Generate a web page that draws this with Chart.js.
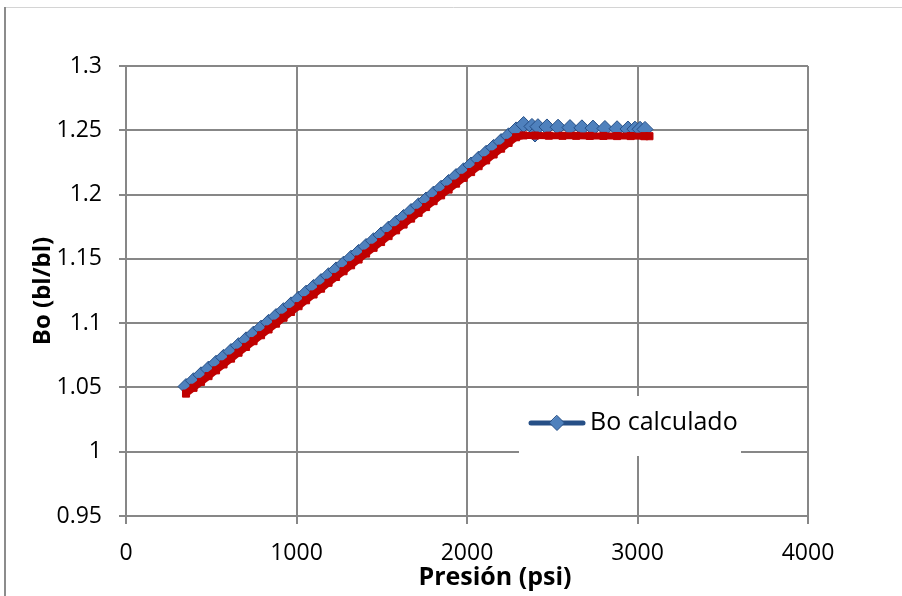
<!DOCTYPE html>
<html>
<head>
<meta charset="utf-8">
<script src="https://cdn.jsdelivr.net/npm/chart.js@4.4.1/dist/chart.umd.min.js"></script>
<style>
  html, body { margin: 0; padding: 0; background: #fff; }
  #wrap { width: 902px; height: 596px; }
</style>
</head>
<body>
<div id="wrap"><canvas id="boChart" width="902" height="596"></canvas></div>
<script>
// Bo calculado (blue diamonds)
const presionCalc = [352, 396, 440, 484, 528, 572, 616, 660, 704, 748, 792, 836, 880, 924, 968,
  1012, 1056, 1100, 1144, 1188, 1232, 1276, 1320, 1364, 1408, 1452, 1496, 1540, 1584, 1628,
  1672, 1716, 1760, 1804, 1848, 1892, 1936, 1980, 2024, 2068, 2112, 2156, 2200, 2244, 2288,
  2332, 2381, 2399, 2416, 2469, 2534, 2604, 2674, 2739, 2809, 2880, 2944, 2985, 3015, 3044];
const boCalc = [1.0507, 1.0552, 1.0598, 1.0643, 1.0688, 1.0734, 1.0779, 1.0825, 1.0870, 1.0915,
  1.0961, 1.1006, 1.1051, 1.1097, 1.1142, 1.1187, 1.1233, 1.1278, 1.1323, 1.1369, 1.1414,
  1.1459, 1.1505, 1.1550, 1.1596, 1.1641, 1.1686, 1.1732, 1.1777, 1.1822, 1.1868, 1.1913,
  1.1958, 1.2004, 1.2049, 1.2094, 1.2140, 1.2185, 1.2230, 1.2276, 1.2321, 1.2367, 1.2412,
  1.2457, 1.2503, 1.2545, 1.2530, 1.2471, 1.2528, 1.2526, 1.2524, 1.2521, 1.2519, 1.2517,
  1.2514, 1.2512, 1.2510, 1.2509, 1.2508, 1.2507];

// second series (red squares, not in legend)
const presionExp = [352, 396, 440, 484, 528, 572, 616, 660, 704, 748, 792, 836, 880, 924, 968,
  1012, 1056, 1100, 1144, 1188, 1232, 1276, 1320, 1364, 1408, 1452, 1496, 1540, 1584, 1628,
  1672, 1716, 1760, 1804, 1848, 1892, 1936, 1980, 2024, 2068, 2112, 2156, 2200, 2244, 2288,
  2332, 2400, 2480, 2560, 2640, 2720, 2800, 2880, 2960, 3040, 3070];
const boExp = [1.0452, 1.0497, 1.0543, 1.0588, 1.0633, 1.0679, 1.0724, 1.0770, 1.0815, 1.0860,
  1.0906, 1.0951, 1.0996, 1.1042, 1.1087, 1.1132, 1.1178, 1.1223, 1.1268, 1.1314, 1.1359,
  1.1404, 1.1450, 1.1495, 1.1541, 1.1586, 1.1631, 1.1677, 1.1722, 1.1767, 1.1813, 1.1858,
  1.1903, 1.1949, 1.1994, 1.2039, 1.2085, 1.2130, 1.2175, 1.2221, 1.2266, 1.2312, 1.2357,
  1.2402, 1.2446, 1.2460, 1.2459, 1.2458, 1.2457, 1.2457, 1.2456, 1.2456, 1.2455, 1.2455,
  1.2454, 1.2454];

const xTicks = [0, 1000, 2000, 3000, 4000];
const yTicks = [0.95, 1, 1.05, 1.1, 1.15, 1.2, 1.25, 1.3];

const blueLine = "#264f86";
const blueFill = "#4f81bd";
const red = "#c00000";
const gridColor = "#878787";
const fontFam = "'Open Sans', 'Noto Sans', sans-serif";

function toPoints(xs, ys) {
  return xs.map((x, i) => ({ x: x, y: ys[i] }));
}

// frame around the chart, x title and legend box inside the plot area
const frameAndLegend = {
  id: "frameAndLegend",
  beforeDraw(chart) {
    const ctx = chart.ctx;
    ctx.save();
    ctx.fillStyle = "#fff";
    ctx.fillRect(0, 0, chart.width, chart.height);
    ctx.strokeStyle = "#d4d4d4";
    ctx.lineWidth = 1;
    ctx.beginPath();
    ctx.moveTo(5, 7.5);
    ctx.lineTo(chart.width, 7.5);
    ctx.stroke();
    ctx.strokeStyle = "#8c8c8c";
    ctx.lineWidth = 2;
    ctx.beginPath();
    ctx.moveTo(5, 7);
    ctx.lineTo(5, chart.height);
    ctx.stroke();
    ctx.restore();
  },
  afterDraw(chart) {
    const ctx = chart.ctx;
    const ca = chart.chartArea;
    ctx.save();
    // x axis title (centred on the whole chart, as in the original)
    ctx.fillStyle = "#000";
    ctx.font = "bold 25px " + fontFam;
    ctx.textAlign = "center";
    ctx.textBaseline = "middle";
    ctx.fillText("Presión (psi)", 495, ca.bottom + 62);

    const bx = ca.left + 393, by = ca.top + 330;
    ctx.fillStyle = "#fff";
    ctx.fillRect(bx, by, 222, 60);
    const ly = by + 27;
    ctx.strokeStyle = blueLine;
    ctx.lineWidth = 5;
    ctx.lineCap = "round";
    ctx.beginPath();
    ctx.moveTo(bx + 12, ly);
    ctx.lineTo(bx + 64, ly);
    ctx.stroke();
    const cx = bx + 38, r = 7.5;
    ctx.fillStyle = blueFill;
    ctx.strokeStyle = blueLine;
    ctx.lineWidth = 1;
    ctx.beginPath();
    ctx.moveTo(cx, ly - r);
    ctx.lineTo(cx + r, ly);
    ctx.lineTo(cx, ly + r);
    ctx.lineTo(cx - r, ly);
    ctx.closePath();
    ctx.fill();
    ctx.stroke();
    ctx.fillStyle = "#000";
    ctx.font = "25px " + fontFam;
    ctx.textAlign = "left";
    ctx.fillText("Bo calculado", bx + 71, ly);
    ctx.restore();
  }
};

const ctx = document.getElementById("boChart").getContext("2d");
const chart = new Chart(ctx, {
  type: "scatter",
  data: {
    datasets: [
      {
        label: "Bo calculado",
        data: toPoints(presionCalc, boCalc),
        showLine: true,
        borderColor: blueLine,
        borderWidth: 3,
        pointStyle: "rectRot",
        pointRadius: 8,
        pointBackgroundColor: blueFill,
        pointBorderColor: blueLine,
        pointBorderWidth: 1,
        order: 1,
      },
      {
        label: "Bo",
        data: toPoints(presionExp, boExp),
        showLine: true,
        borderColor: red,
        borderWidth: 7,
        pointStyle: "rect",
        pointRadius: 5,
        pointBackgroundColor: red,
        pointBorderColor: red,
        pointBorderWidth: 1,
        order: 0,
      },
    ],
  },
  options: {
    responsive: false,
    animation: false,
    devicePixelRatio: 1,
    layout: { padding: { left: 0, top: 66, right: 94, bottom: 0 } },
    plugins: {
      legend: { display: false },
      tooltip: { enabled: false },
    },
    scales: {
      x: {
        type: "linear",
        min: 0,
        max: 4000,
        afterBuildTicks: (s) => { s.ticks = xTicks.map((v) => ({ value: v })); },
        afterFit: (s) => { s.height = 80; },
        grid: { color: gridColor, lineWidth: 2, tickLength: 8 },
        border: { color: gridColor, width: 2 },
        ticks: {
          color: "#000",
          padding: 16,
          font: { family: fontFam, size: 23 },
          callback: (v) => String(v),
        },
      },
      y: {
        type: "linear",
        min: 0.95,
        max: 1.3,
        afterBuildTicks: (s) => { s.ticks = yTicks.map((v) => ({ value: v })); },
        afterFit: (s) => { s.width = 126; },
        grid: { color: gridColor, lineWidth: 2, tickLength: 7 },
        border: { color: gridColor, width: 2 },
        ticks: {
          color: "#000",
          padding: 17,
          font: { family: fontFam, size: 23 },
          callback: (v) => String(Math.round(v * 100) / 100),
        },
        title: {
          display: true,
          text: "Bo (bl/bl)",
          color: "#000",
          font: { family: fontFam, size: 24, weight: "bold" },
          padding: { top: 29, bottom: 0 },
        },
      },
    },
  },
  plugins: [frameAndLegend],
});
</script>
</body>
</html>
